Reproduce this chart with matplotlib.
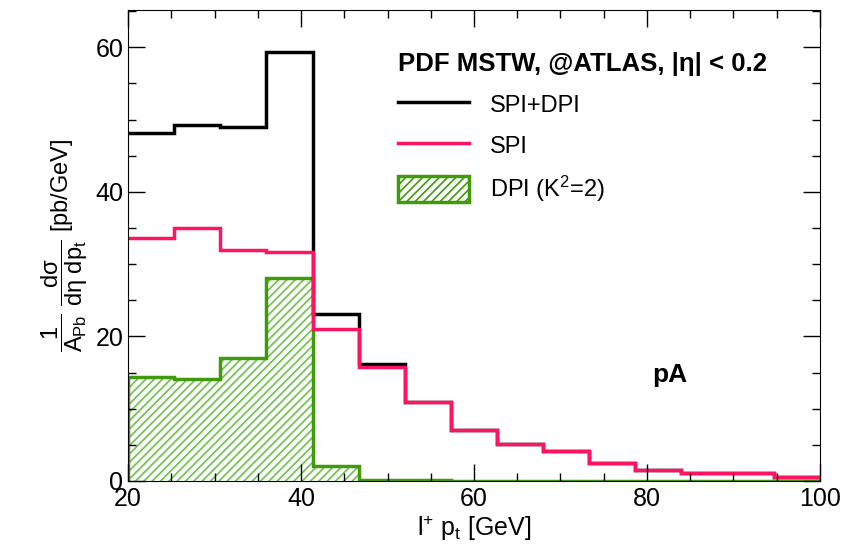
import numpy as np
import matplotlib
matplotlib.use("Agg")
import matplotlib.pyplot as plt
from matplotlib.patches import Patch
from matplotlib.lines import Line2D
from matplotlib.ticker import MultipleLocator

plt.rcParams['font.family'] = ['Liberation Sans', 'DejaVu Sans']
plt.rcParams['mathtext.fontset'] = 'custom'
plt.rcParams['mathtext.rm'] = 'Liberation Sans'
plt.rcParams['mathtext.it'] = 'Liberation Sans'
plt.rcParams['mathtext.bf'] = 'Liberation Sans:bold'
plt.rcParams['hatch.linewidth'] = 1.2

# Bin edges: 15 bins from 20 to 100 GeV
edges = np.linspace(20, 100, 16)

# SPI+DPI (black)
total = [48.2, 49.3, 49.0, 59.4, 23.1, 16.2, 10.9, 7.1, 5.1, 4.2, 2.5, 1.5, 1.1, 1.1, 0.5]
# SPI (pink)
spi = [33.6, 35.0, 32.0, 31.7, 21.0, 15.8, 10.9, 7.1, 5.1, 4.2, 2.5, 1.5, 1.1, 1.1, 0.5]
# DPI (green, hatched)
dpi = [14.4, 14.1, 17.0, 28.1, 2.1, 0.2, 0.2, 0.05, 0.05, 0.05, 0.05, 0.05, 0.05, 0.05, 0.05]

fig = plt.figure(figsize=(8.54, 5.5), dpi=100)
ax = fig.add_axes([0.150, 0.1255, 0.810, 0.857])

def steps(vals):
    return np.append(vals, vals[-1])

green_edge = '#3f9b0b'
green_hatch = '#6cc24a'

ax.fill_between(edges, steps(dpi), step='post', facecolor='white',
                edgecolor=green_hatch, hatch='////', linewidth=0)
ax.stairs(dpi, edges, color=green_edge, linewidth=2.5, baseline=0)
ax.stairs(total, edges, color='black', linewidth=2.5, baseline=None)
ax.stairs(spi, edges, color='#ff1464', linewidth=2.5, baseline=None)

ax.set_xlim(20, 100)
ax.set_ylim(0, 65.2)
ax.xaxis.set_major_locator(MultipleLocator(20))
ax.xaxis.set_minor_locator(MultipleLocator(5))
ax.yaxis.set_major_locator(MultipleLocator(20))
ax.yaxis.set_minor_locator(MultipleLocator(5))
ax.tick_params(which='both', direction='in', top=True, right=True, labelsize=18)
ax.tick_params(which='major', length=12, width=1)
ax.tick_params(which='minor', length=6, width=1)
ax.tick_params(axis='x', pad=4)

ax.set_xlabel(r'l$^{+}$ p$_{t}$ [GeV]', fontsize=18, labelpad=2)
ax.set_ylabel(r'$\dfrac{1}{A_{Pb}}\ \dfrac{d\sigma}{d\eta\ dp_{t}}$ [pb/GeV]', fontsize=17,
              labelpad=4)

ax.text(82.7, 14.7, 'pA', fontsize=19, fontweight='bold', ha='center', va='center')

handles = [Line2D([], [], color='black', lw=2.5),
           Line2D([], [], color='#ff1464', lw=2.5),
           Patch(facecolor='white', edgecolor=green_edge, hatch='////', lw=2.5)]
leg = ax.legend(handles, ['SPI+DPI', 'SPI', r'DPI (K$^2$=2)'],
                title='PDF MSTW, @ATLAS, |η| < 0.2', loc='upper left',
                bbox_to_anchor=(0.37, 0.94), frameon=False, fontsize=17,
                handlelength=3.0, handleheight=1.3, labelspacing=0.65,
                handletextpad=0.9, borderaxespad=0.2,
                title_fontproperties={'weight': 'bold', 'size': 18.5})
leg._legend_box.align = 'left'

fig.savefig('out.png', dpi=100)
